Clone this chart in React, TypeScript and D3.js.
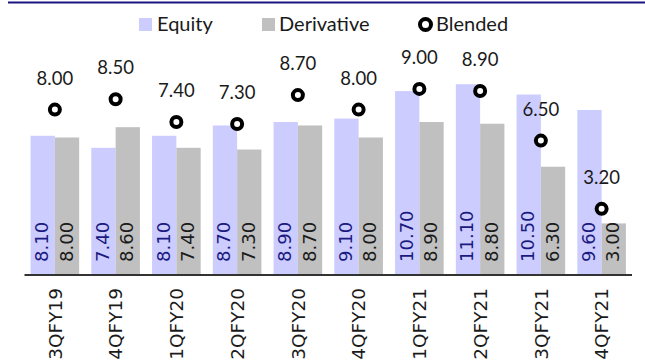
import React from 'react';
import * as d3 from 'd3';

// chart data
const quarters = ['3QFY19', '4QFY19', '1QFY20', '2QFY20', '3QFY20', '4QFY20', '1QFY21', '2QFY21', '3QFY21', '4QFY21'];
const equity = [8.1, 7.4, 8.1, 8.7, 8.9, 9.1, 10.7, 11.1, 10.5, 9.6];
const derivative = [8.0, 8.6, 7.4, 7.3, 8.7, 8.0, 8.9, 8.8, 6.3, 3.0];
const blended = [8.0, 8.5, 7.4, 7.3, 8.7, 8.0, 9.0, 8.9, 6.5, 3.2];
const seriesNames = ['Equity', 'Derivative'];

const W = 645;
const H = 360;
const base = 275;
const fmt = d3.format('.2f');

const colors = {
    equity: '#CCCCFF',
    derivative: '#C0C0C0',
    equityText: '#1A1A80',
    text: '#1a1a1a',
    axis: '#333333',
    topLine: '#1B1480'
};

const App = () => {
    const x = d3.scaleBand<string>()
        .domain(quarters)
        .range([24.5, 632])
        .paddingInner(0.2)
        .paddingOuter(0.1);

    const xInner = d3.scaleBand<string>()
        .domain(seriesNames)
        .range([0, x.bandwidth()]);

    // left scale for the bars, right scale for blended markers
    const yLeft = d3.scaleLinear().domain([0, 16]).range([base, 0]);
    const yRight = d3.scaleLinear().domain([0, 13.3]).range([base, 0]);

    const rows = quarters.map((q, i) => ({q, eq: equity[i], der: derivative[i], bl: blended[i]}));
    const cx = (q: string) => (x(q) as number) + x.bandwidth() / 2;

    return (
        <svg width={W} height={H} style={{position: 'absolute', left: 0, top: 0}}>
            <rect width={W} height={H} fill="#fff" />
            <line x1={8} x2={W} y1={2.5} y2={2.5} stroke={colors.topLine} strokeWidth={2} />

            {/* legend */}
            <g fontFamily="Lato" fontSize={20} fill={colors.text}>
                <rect x={139} y={18} width={13} height={13} fill={colors.equity} />
                <text x={157} y={31}>Equity</text>
                <rect x={262} y={18} width={13} height={13} fill={colors.derivative} />
                <text x={279} y={31}>Derivative</text>
                <circle cx={425.5} cy={24.5} r={5.5} fill="#fff" stroke="#000" strokeWidth={4} />
                <text x={436} y={31}>Blended</text>
            </g>

            {/* bars */}
            {rows.map(d => (
                <g key={d.q} transform={`translate(${x(d.q)},0)`}>
                    <rect x={xInner('Equity')} y={yLeft(d.eq)} width={xInner.bandwidth()}
                          height={base - yLeft(d.eq)} fill={colors.equity} />
                    <rect x={xInner('Derivative')} y={yLeft(d.der)} width={xInner.bandwidth()}
                          height={base - yLeft(d.der)} fill={colors.derivative} />
                    <text transform={`translate(${(xInner('Equity') as number) + xInner.bandwidth() / 2 - 1},262) rotate(-90)`}
                          dy="0.36em" fontFamily="DejaVu Sans" fontSize={18} fill={colors.equityText}>
                        {fmt(d.eq)}
                    </text>
                    <text transform={`translate(${(xInner('Derivative') as number) + xInner.bandwidth() / 2 - 1},262) rotate(-90)`}
                          dy="0.36em" fontFamily="DejaVu Sans" fontSize={18} fill={colors.text}>
                        {fmt(d.der)}
                    </text>
                </g>
            ))}

            {/* axis line */}
            <line x1={24.5} x2={632} y1={base} y2={base} stroke={colors.axis} strokeWidth={2} />

            {/* x tick labels */}
            {quarters.map(q => (
                <text key={q} transform={`translate(${cx(q)},288) rotate(-90)`} textAnchor="end" dy="0.36em"
                      fontFamily="DejaVu Sans" fontSize={18.5} fill={colors.text}>
                    {q}
                </text>
            ))}

            {/* blended markers */}
            {rows.map(d => (
                <g key={'b' + d.q}>
                    <circle cx={cx(d.q)} cy={yRight(d.bl)} r={5} fill="#fff" stroke="#000" strokeWidth={4} />
                    <text x={cx(d.q)} y={yRight(d.bl) - 25} textAnchor="middle"
                          fontFamily="Lato" fontSize={18.5} fill={colors.text}>
                        {fmt(d.bl)}
                    </text>
                </g>
            ))}
        </svg>
    );
};

export default App;
